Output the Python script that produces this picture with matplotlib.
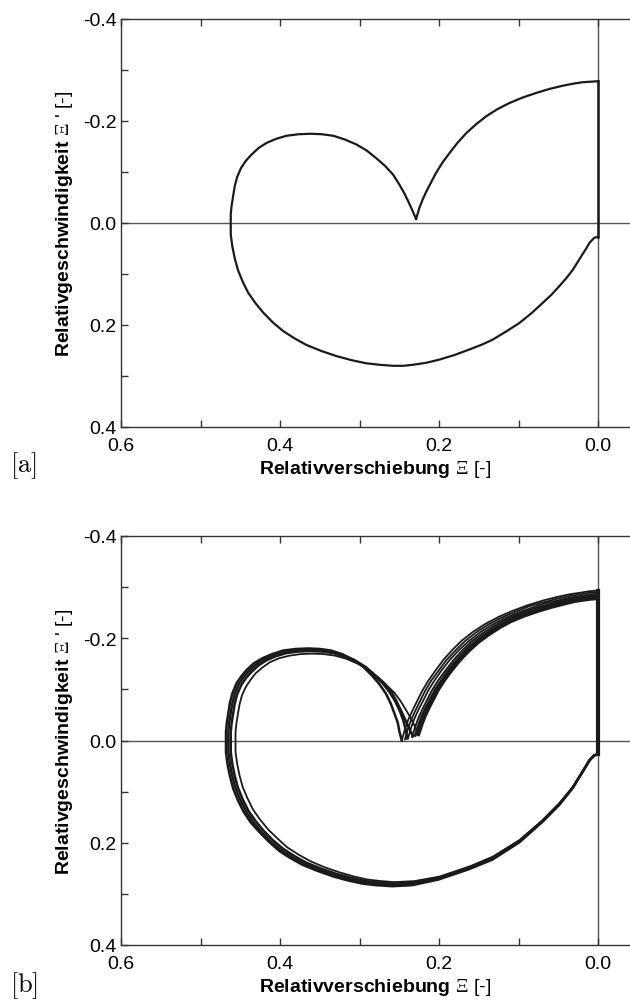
import numpy as np
import matplotlib
matplotlib.use('Agg')
import matplotlib.pyplot as plt

plt.rcParams['font.family'] = ['Liberation Sans', 'DejaVu Sans']
plt.rcParams['mathtext.fontset'] = 'custom'
plt.rcParams['mathtext.rm'] = 'Liberation Serif'
plt.rcParams['mathtext.bf'] = 'Liberation Sans:bold'

# ---- Daten ----
# [a] ein Zyklus: von (0, 0.027) unten herum bis zur Spitze
a_left_x = [0.000, 0.005, 0.011, 0.015, 0.020, 0.026, 0.032, 0.040, 0.049, 0.059,
            0.070, 0.084, 0.099, 0.116, 0.133, 0.147, 0.162, 0.181, 0.200, 0.216,
            0.233, 0.245, 0.258, 0.275, 0.292, 0.310, 0.329, 0.348, 0.367, 0.382,
            0.396, 0.409, 0.421, 0.431, 0.440, 0.447, 0.453, 0.457, 0.460, 0.462,
            0.462, 0.462, 0.461, 0.459, 0.457, 0.454, 0.449, 0.443, 0.436, 0.427,
            0.417, 0.405, 0.392, 0.377, 0.361, 0.347, 0.333, 0.319, 0.304, 0.291,
            0.279, 0.268, 0.258, 0.251, 0.244, 0.239, 0.234, 0.229]
a_left_y = [0.027, 0.029, 0.039, 0.050, 0.062, 0.077, 0.092, 0.108, 0.124, 0.141,
            0.157, 0.177, 0.196, 0.213, 0.229, 0.239, 0.248, 0.259, 0.268, 0.274,
            0.278, 0.280, 0.280, 0.278, 0.275, 0.269, 0.261, 0.251, 0.239, 0.226,
            0.212, 0.195, 0.176, 0.157, 0.137, 0.115, 0.092, 0.069, 0.046, 0.023,
            0.000, -0.017, -0.033, -0.053, -0.072, -0.090, -0.108, -0.122, -0.134, -0.147,
            -0.157, -0.165, -0.171, -0.174, -0.175, -0.174, -0.171, -0.164, -0.154, -0.142,
            -0.127, -0.112, -0.095, -0.078, -0.059, -0.043, -0.026, -0.008]
# rechter Bogen: Spitze -> oben bei x = 0
a_arc_x = [0.229, 0.227, 0.225, 0.221, 0.216, 0.210, 0.204, 0.196, 0.187, 0.177, 0.166, 0.154,
           0.141, 0.127, 0.112, 0.095, 0.078, 0.061, 0.045, 0.032, 0.020, 0.010, 0.000]
a_arc_y = [-0.008, -0.018, -0.029, -0.045, -0.062, -0.080, -0.098, -0.118, -0.137, -0.157, -0.176, -0.193,
           -0.209, -0.223, -0.235, -0.246, -0.255, -0.263, -0.269, -0.273, -0.276, -0.277, -0.278]
a_vert_y = [-0.278, 0.027]

# [b] mehrere Zyklen, linker Teil (aussen -> innen)
b_left_x = [
    [0.000, 0.005, 0.011, 0.020, 0.032, 0.049, 0.070, 0.099, 0.133, 0.163, 0.201, 0.234,
     0.259, 0.279, 0.296, 0.314, 0.333, 0.353, 0.372, 0.387, 0.401, 0.414, 0.426, 0.437,
     0.446, 0.453, 0.459, 0.463, 0.466, 0.468, 0.468, 0.468, 0.467, 0.465, 0.463, 0.460,
     0.455, 0.449, 0.442, 0.433, 0.422, 0.410, 0.396, 0.380, 0.364, 0.350, 0.336, 0.322,
     0.308, 0.296, 0.285, 0.275, 0.267, 0.261, 0.256, 0.252, 0.250, 0.247],
    [0.000, 0.005, 0.011, 0.020, 0.032, 0.049, 0.070, 0.099, 0.133, 0.163, 0.201, 0.234,
     0.259, 0.277, 0.294, 0.312, 0.331, 0.351, 0.370, 0.385, 0.399, 0.412, 0.424, 0.434,
     0.443, 0.450, 0.456, 0.460, 0.463, 0.465, 0.465, 0.465, 0.464, 0.462, 0.460, 0.457,
     0.452, 0.446, 0.439, 0.430, 0.420, 0.408, 0.394, 0.379, 0.363, 0.349, 0.335, 0.321,
     0.306, 0.293, 0.282, 0.271, 0.262, 0.255, 0.249, 0.245, 0.242, 0.240],
    [0.000, 0.005, 0.011, 0.020, 0.032, 0.049, 0.070, 0.099, 0.133, 0.162, 0.200, 0.233,
     0.258, 0.275, 0.292, 0.310, 0.329, 0.348, 0.367, 0.382, 0.396, 0.409, 0.421, 0.431,
     0.440, 0.447, 0.453, 0.457, 0.460, 0.462, 0.462, 0.462, 0.461, 0.459, 0.457, 0.454,
     0.449, 0.443, 0.436, 0.427, 0.417, 0.405, 0.392, 0.377, 0.361, 0.347, 0.333, 0.319,
     0.304, 0.291, 0.280, 0.269, 0.260, 0.254, 0.248, 0.243, 0.238, 0.233],
    [0.000, 0.005, 0.011, 0.020, 0.032, 0.049, 0.070, 0.099, 0.132, 0.161, 0.199, 0.231,
     0.256, 0.273, 0.290, 0.307, 0.325, 0.344, 0.362, 0.377, 0.391, 0.403, 0.415, 0.425,
     0.434, 0.441, 0.447, 0.451, 0.454, 0.456, 0.456, 0.456, 0.455, 0.453, 0.451, 0.448,
     0.443, 0.437, 0.431, 0.422, 0.413, 0.401, 0.388, 0.374, 0.359, 0.345, 0.331, 0.317,
     0.302, 0.289, 0.277, 0.266, 0.256, 0.248, 0.241, 0.235, 0.230, 0.226],
]
b_left_y = [
    [0.027, 0.029, 0.039, 0.062, 0.093, 0.126, 0.159, 0.199, 0.233, 0.252, 0.272, 0.283,
     0.285, 0.283, 0.280, 0.274, 0.266, 0.255, 0.243, 0.230, 0.216, 0.198, 0.179, 0.160,
     0.139, 0.117, 0.094, 0.070, 0.047, 0.023, 0.000, -0.017, -0.034, -0.054, -0.074, -0.092,
     -0.111, -0.125, -0.138, -0.151, -0.161, -0.169, -0.176, -0.179, -0.180, -0.179, -0.176, -0.169,
     -0.158, -0.145, -0.128, -0.110, -0.092, -0.073, -0.052, -0.035, -0.018, 0.000],
    [0.027, 0.029, 0.039, 0.062, 0.092, 0.125, 0.158, 0.198, 0.231, 0.250, 0.270, 0.281,
     0.283, 0.281, 0.278, 0.272, 0.264, 0.253, 0.241, 0.228, 0.214, 0.197, 0.178, 0.159,
     0.138, 0.116, 0.093, 0.070, 0.046, 0.023, 0.000, -0.017, -0.034, -0.054, -0.073, -0.091,
     -0.110, -0.124, -0.136, -0.149, -0.159, -0.167, -0.174, -0.177, -0.178, -0.177, -0.174, -0.167,
     -0.157, -0.144, -0.128, -0.112, -0.094, -0.076, -0.056, -0.039, -0.021, -0.004],
    [0.027, 0.029, 0.039, 0.062, 0.092, 0.124, 0.157, 0.196, 0.229, 0.248, 0.268, 0.278,
     0.280, 0.278, 0.275, 0.269, 0.261, 0.251, 0.239, 0.226, 0.212, 0.195, 0.176, 0.157,
     0.137, 0.115, 0.092, 0.069, 0.046, 0.023, 0.000, -0.017, -0.033, -0.053, -0.072, -0.090,
     -0.108, -0.122, -0.134, -0.147, -0.157, -0.165, -0.171, -0.174, -0.175, -0.174, -0.171, -0.164,
     -0.154, -0.142, -0.127, -0.112, -0.095, -0.078, -0.059, -0.042, -0.025, -0.008],
    [0.027, 0.029, 0.039, 0.062, 0.092, 0.123, 0.156, 0.195, 0.227, 0.246, 0.266, 0.275,
     0.277, 0.275, 0.272, 0.266, 0.258, 0.248, 0.236, 0.223, 0.209, 0.192, 0.174, 0.155,
     0.135, 0.113, 0.091, 0.068, 0.045, 0.022, 0.000, -0.016, -0.032, -0.052, -0.070, -0.088,
     -0.105, -0.119, -0.131, -0.143, -0.153, -0.161, -0.166, -0.169, -0.170, -0.169, -0.166, -0.160,
     -0.150, -0.138, -0.124, -0.108, -0.093, -0.076, -0.058, -0.042, -0.026, -0.012],
]
b_left_lw = [1.8, 1.8, 1.8, 1.3]

# [b] rechte Boegen (Spitze -> oben bei x = 0), aussen -> innen
b_arc_x = [
    [0.247, 0.243, 0.239, 0.234, 0.228, 0.222, 0.214, 0.205, 0.195, 0.183, 0.171,
     0.157, 0.142, 0.125, 0.107, 0.088, 0.069, 0.051, 0.036, 0.023, 0.011, 0.000],
    [0.243, 0.239, 0.235, 0.230, 0.224, 0.218, 0.210, 0.201, 0.191, 0.179, 0.167,
     0.153, 0.138, 0.122, 0.104, 0.086, 0.067, 0.050, 0.035, 0.022, 0.011, 0.000],
    [0.239, 0.235, 0.231, 0.226, 0.220, 0.214, 0.206, 0.197, 0.187, 0.175, 0.163,
     0.149, 0.135, 0.119, 0.101, 0.083, 0.065, 0.048, 0.034, 0.021, 0.010, 0.000],
    [0.234, 0.230, 0.226, 0.221, 0.215, 0.209, 0.201, 0.192, 0.182, 0.171, 0.159,
     0.146, 0.131, 0.116, 0.099, 0.081, 0.063, 0.047, 0.033, 0.021, 0.010, 0.000],
    [0.230, 0.226, 0.222, 0.217, 0.211, 0.205, 0.197, 0.188, 0.178, 0.167, 0.155,
     0.142, 0.128, 0.113, 0.096, 0.078, 0.061, 0.045, 0.032, 0.020, 0.009, 0.000],
    [0.226, 0.222, 0.218, 0.213, 0.207, 0.201, 0.193, 0.184, 0.174, 0.163, 0.151,
     0.138, 0.124, 0.110, 0.093, 0.076, 0.059, 0.044, 0.031, 0.019, 0.009, 0.000],
]
b_arc_y = [
    [0.000, -0.022, -0.040, -0.057, -0.076, -0.095, -0.116, -0.136, -0.157, -0.178, -0.196,
     -0.213, -0.228, -0.242, -0.254, -0.265, -0.274, -0.281, -0.286, -0.289, -0.292, -0.293],
    [-0.002, -0.024, -0.041, -0.058, -0.077, -0.096, -0.117, -0.136, -0.157, -0.177, -0.195,
     -0.212, -0.227, -0.240, -0.252, -0.263, -0.271, -0.278, -0.283, -0.286, -0.289, -0.290],
    [-0.005, -0.026, -0.043, -0.060, -0.078, -0.097, -0.117, -0.137, -0.157, -0.177, -0.194,
     -0.211, -0.225, -0.238, -0.250, -0.260, -0.269, -0.275, -0.280, -0.283, -0.286, -0.287],
    [-0.007, -0.027, -0.044, -0.061, -0.080, -0.098, -0.118, -0.137, -0.157, -0.176, -0.194,
     -0.209, -0.224, -0.237, -0.248, -0.258, -0.266, -0.273, -0.278, -0.281, -0.283, -0.284],
    [-0.010, -0.029, -0.046, -0.063, -0.081, -0.099, -0.118, -0.138, -0.157, -0.176, -0.193,
     -0.208, -0.222, -0.235, -0.246, -0.255, -0.264, -0.270, -0.275, -0.278, -0.280, -0.281],
    [-0.012, -0.031, -0.047, -0.064, -0.082, -0.100, -0.119, -0.138, -0.157, -0.175, -0.192,
     -0.207, -0.221, -0.233, -0.244, -0.253, -0.261, -0.267, -0.272, -0.275, -0.277, -0.278],
]
b_arc_lw = [1.3, 1.3, 1.3, 1.4, 2.0, 2.6]
b_vert_y = [-0.293, 0.027]

x_ticks = [0.6, 0.5, 0.4, 0.3, 0.2, 0.1, 0.0]
x_labels = ['0.6', '', '0.4', '', '0.2', '', '0.0']
y_ticks = [-0.4, -0.3, -0.2, -0.1, 0.0, 0.1, 0.2, 0.3, 0.4]
y_labels = ['-0.4', '', '-0.2', '', '0.0', '', '0.2', '', '0.4']

fig = plt.figure(figsize=(6.30, 10.03), dpi=100)
W, H = 630, 1003
LINE = '#1a1a1a'


def setup_axes(ax):
    ax.set_xlim(0.6, -0.04)
    ax.set_ylim(0.4, -0.4)
    ax.axhline(0, color='#555555', lw=1.0, zorder=1)
    ax.axvline(0, color='#555555', lw=1.0, zorder=1)
    for s in ['left', 'bottom', 'top']:
        ax.spines[s].set_color('#333333')
        ax.spines[s].set_linewidth(1.0)
    ax.spines['right'].set_visible(False)
    ax.set_xticks(x_ticks)
    ax.set_xticklabels(x_labels)
    ax.set_yticks(y_ticks)
    ax.set_yticklabels(y_labels)
    ax.tick_params(direction='in', length=5, width=1.0, color='#333333',
                   labelsize=14, top=True, right=False)
    ax.tick_params(axis='x', pad=7)
    ax.tick_params(axis='y', pad=3)
    ax.set_xlabel(r'$\mathbf{Relativverschiebung}$ $\Xi$ [-]', fontsize=14, labelpad=3)
    ax.set_ylabel(r"$\mathbf{Relativgeschwindigkeit}$ $\Xi$ ' [-]", fontsize=14, labelpad=6)


# [a]
ax1 = fig.add_axes([121 / W, 1 - 428 / H, 509 / W, 408 / H])
setup_axes(ax1)
ax1.plot(a_left_x, a_left_y, color=LINE, lw=1.6, zorder=3, solid_joinstyle='round')
ax1.plot(a_arc_x, a_arc_y, color=LINE, lw=1.6, zorder=3, solid_joinstyle='round')
ax1.plot([0, 0], a_vert_y, color=LINE, lw=1.8, zorder=3)

# [b]
ax2 = fig.add_axes([121 / W, 1 - 946 / H, 509 / W, 409 / H])
setup_axes(ax2)
for xs, ys, lw in zip(b_left_x, b_left_y, b_left_lw):
    ax2.plot(xs, ys, color=LINE, lw=lw, zorder=3, solid_joinstyle='round')
for xs, ys, lw in zip(b_arc_x, b_arc_y, b_arc_lw):
    ax2.plot(xs, ys, color=LINE, lw=lw, zorder=3, solid_joinstyle='round')
ax2.plot([0, 0], b_vert_y, color=LINE, lw=3.0, zorder=3)

fig.text(10 / W, 1 - 466 / H, r'$[\mathrm{a}]$', fontsize=19, math_fontfamily='cm', va='center')
fig.text(10 / W, 1 - 986 / H, r'$[\mathrm{b}]$', fontsize=19, math_fontfamily='cm', va='center')

fig.savefig('out.png', dpi=100)
